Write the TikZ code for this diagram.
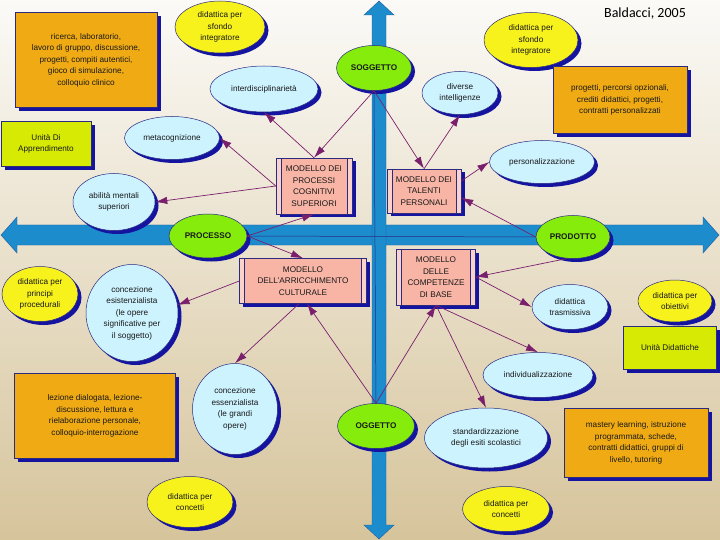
\documentclass[tikz,border=0pt]{standalone}
\usepackage{fontspec}
\setmainfont{Liberation Sans}
\newfontfamily\citefont{Carlito}
\usepackage{xcolor}
\usepackage{tikz}
\usetikzlibrary{arrows.meta,positioning,calc,shapes.geometric,shadows}
\definecolor{bgTop}{HTML}{FBFAF7}
\definecolor{bgMid}{HTML}{F2ECDD}
\definecolor{bgBot}{HTML}{D6C49B}
\definecolor{edgeBlue}{HTML}{2A2A80}
\definecolor{shadowBlue}{HTML}{1414A0}
\definecolor{cyanFill}{HTML}{CDF3FF}
\definecolor{yellowFill}{HTML}{F7F21C}
\definecolor{greenFill}{HTML}{86EC0C}
\definecolor{orangeFill}{HTML}{F0AB14}
\definecolor{limeFill}{HTML}{D6EA04}
\definecolor{pinkFill}{HTML}{F8B5A6}
\definecolor{pinkLight}{HTML}{F9D2CA}
\definecolor{linkPurple}{HTML}{7A1F6C}
\definecolor{axisDark}{HTML}{1C8CCC}
\definecolor{axisLight}{HTML}{6CD2F6}
\definecolor{axisEdge}{HTML}{1E5C9E}

\begin{document}
\begin{tikzpicture}[x=1pt, y=-1pt, font=\fontsize{8.2}{11.5}\selectfont,
  base/.style={draw=edgeBlue, line width=0.5pt, align=center, inner sep=0pt, text=black!90,
    drop shadow={shadow xshift=3.5pt, shadow yshift=-3.5pt, fill=shadowBlue, opacity=1}},
  eBlue/.style={base, ellipse, fill=cyanFill},
  eYellow/.style={base, ellipse, fill=yellowFill},
  eGreen/.style={base, ellipse, fill=greenFill, font=\fontsize{8.2}{10}\selectfont\bfseries},
  bOrange/.style={base, rectangle, fill=orangeFill},
  bLime/.style={base, rectangle, fill=limeFill},
  model/.style={base, rectangle, fill=pinkFill,
    path picture={
      \fill[pinkLight] (path picture bounding box.north west) rectangle ([xshift=5pt]path picture bounding box.south west);
      \fill[pinkLight] (path picture bounding box.north east) rectangle ([xshift=-5pt]path picture bounding box.south east);
      \draw[edgeBlue, line width=0.5pt]
        ([xshift=5pt]path picture bounding box.north west) -- ([xshift=5pt]path picture bounding box.south west)
        ([xshift=-5pt]path picture bounding box.north east) -- ([xshift=-5pt]path picture bounding box.south east);}},
  link/.style={draw=linkPurple, line width=0.7pt, -{Latex[length=12pt,width=7.5pt]}},
  axisline/.style={draw=edgeBlue, line width=0.5pt}]
  \useasboundingbox (0,0) rectangle (720,540);
  \shade[top color=bgTop, middle color=bgMid, bottom color=bgBot] (0,0) rectangle (720,540);
  % axes
  \shade[top color=axisDark, middle color=axisLight, bottom color=axisDark, draw=axisEdge, line width=0.4pt]
    (1,235) -- (17,217) -- (17,225) -- (703,225) -- (703,217) -- (719,235)
    -- (703,253) -- (703,245) -- (17,245) -- (17,253) -- cycle;
  \shade[left color=axisDark, middle color=axisLight, right color=axisDark, draw=axisEdge, line width=0.4pt]
    (379,1) -- (394,15) -- (386,15) -- (386,525) -- (394,525) -- (379,539)
    -- (364,525) -- (372,525) -- (372,15) -- (364,15) -- cycle;
  \node[font=\citefont\fontsize{14}{16}\selectfont] (cite) at (645,14) {Baldacci, 2005};
  % poles
  \node[eGreen, minimum width=75pt, minimum height=45pt] (sogg) at (374,68) {SOGGETTO};
  \node[eGreen, minimum width=78pt, minimum height=44pt] (proc) at (208,236) {PROCESSO};
  \node[eGreen, minimum width=74pt, minimum height=43pt] (prod) at (573,237) {PRODOTTO};
  \node[eGreen, minimum width=77pt, minimum height=45pt] (ogg) at (376,426) {OGGETTO};
  % models
  \node[model, minimum width=76pt, minimum height=56pt] (mpcs) at (314,186) {MODELLO DEI\\PROCESSI\\COGNITIVI\\SUPERIORI};
  \node[model, minimum width=74pt, minimum height=44pt] (mtp) at (424,191) {MODELLO DEI\\TALENTI\\PERSONALI};
  \node[model, minimum width=127pt, minimum height=45pt] (mac) at (303,281) {MODELLO\\DELL'ARRICCHIMENTO\\CULTURALE};
  \node[model, minimum width=79pt, minimum height=56pt] (mcb) at (436,277) {MODELLO\\DELLE\\COMPETENZE\\DI BASE};
  % aims
  \node[eBlue, minimum width=108pt, minimum height=46pt] (inter) at (264,89) {interdisciplinarietà};
  \node[eBlue, minimum width=95pt, minimum height=43pt] (meta) at (172,138) {metacognizione};
  \node[eBlue, minimum width=82pt, minimum height=57pt] (abil) at (114,202) {abilità mentali\\superiori};
  \node[eBlue, minimum width=76pt, minimum height=43pt] (div) at (460,93) {diverse\\intelligenze};
  \node[eBlue, minimum width=105pt, minimum height=43pt] (pers) at (542,162) {personalizzazione};
  \node[eBlue, minimum width=92pt, minimum height=97pt] (exist) at (132,313) {concezione\\esistenzialista\\(le opere\\significative per\\il soggetto)};
  \node[eBlue, minimum width=85pt, minimum height=91pt] (ess) at (235,409) {concezione\\essenzialista\\(le grandi\\opere)};
  \node[eBlue, minimum width=76pt, minimum height=45pt] (trasm) at (570,307) {didattica\\trasmissiva};
  \node[eBlue, minimum width=110pt, minimum height=45pt] (indiv) at (538,375) {individualizzazione};
  \node[eBlue, minimum width=123pt, minimum height=60pt] (stand) at (486,438) {standardizzazione\\degli esiti scolastici};
  % didactics
  \node[eYellow, minimum width=90pt, minimum height=52pt] (sfondoL) at (220,27) {didattica per\\sfondo\\integratore};
  \node[eYellow, minimum width=94pt, minimum height=55pt] (sfondoR) at (531,40) {didattica per\\sfondo\\integratore};
  \node[eYellow, minimum width=76pt, minimum height=55pt] (princ) at (40,294) {didattica per\\principi\\procedurali};
  \node[eYellow, minimum width=74pt, minimum height=42pt] (obiet) at (675,301) {didattica per\\obiettivi};
  \node[eYellow, minimum width=86pt, minimum height=51pt] (concL) at (190,502) {didattica per\\concetti};
  \node[eYellow, minimum width=87pt, minimum height=45pt] (concR) at (506,509) {didattica per\\concetti};
  % methods
  \node[bOrange, minimum width=142pt, minimum height=95pt] (metA) at (86,60) {ricerca, laboratorio,\\lavoro di gruppo, discussione,\\progetti, compiti autentici,\\gioco di simulazione,\\colloquio clinico};
  \node[bOrange, minimum width=134pt, minimum height=67pt] (metB) at (620,100) {progetti, percorsi opzionali,\\crediti didattici, progetti,\\contratti personalizzati};
  \node[bOrange, minimum width=161pt, minimum height=85pt] (metC) at (95,416) {lezione dialogata, lezione-\\discussione, lettura e\\rielaborazione personale,\\colloquio-interrogazione};
  \node[bOrange, minimum width=144pt, minimum height=69pt] (metD) at (636,443) {mastery learning, istruzione\\programmata, schede,\\contratti didattici, gruppi di\\livello, tutoring};
  \node[bLime, minimum width=90pt, minimum height=45pt] (unitA) at (46,144) {Unità Di\\Apprendimento};
  \node[bLime, minimum width=93pt, minimum height=43pt] (unitD) at (670,348) {Unità Didattiche};
  % axis links
  \draw[axisline] (proc.east) -- (prod.west);
  \draw[axisline] (sogg.south) -- (ogg.north);
  % links from the poles
  \draw[link] (sogg.south) -- (mpcs.north);
  \draw[link] (sogg.south) -- (mtp.north);
  \draw[link] (proc.east) -- (mpcs.south);
  \draw[link] (proc.east) -- (mac.north);
  \draw[link] (prod.west) -- (mtp.-10);
  \draw[link] (prod.255) -- (mcb.east);
  \draw[link] (ogg.north) -- (mac.-80);
  \draw[link] (ogg.north) -- (mcb.south);
  % links from the models
  \draw[link] (mpcs.north) -- (inter.south);
  \draw[link] (mpcs.west) -- (meta.east);
  \draw[link] (mpcs.west) -- (abil.east);
  \draw[link] (mtp.north) -- (div.south);
  \draw[link] (mtp.15) -- (pers.west);
  \draw[link] (mac.west) -- (exist.10);
  \draw[link] (mac.-100) -- (ess.north);
  \draw[link] (mcb.east) -- (trasm.west);
  \draw[link] (mcb.south) -- (indiv.north);
  \draw[link] (mcb.south) -- (stand.north);
\end{tikzpicture}
\end{document}
